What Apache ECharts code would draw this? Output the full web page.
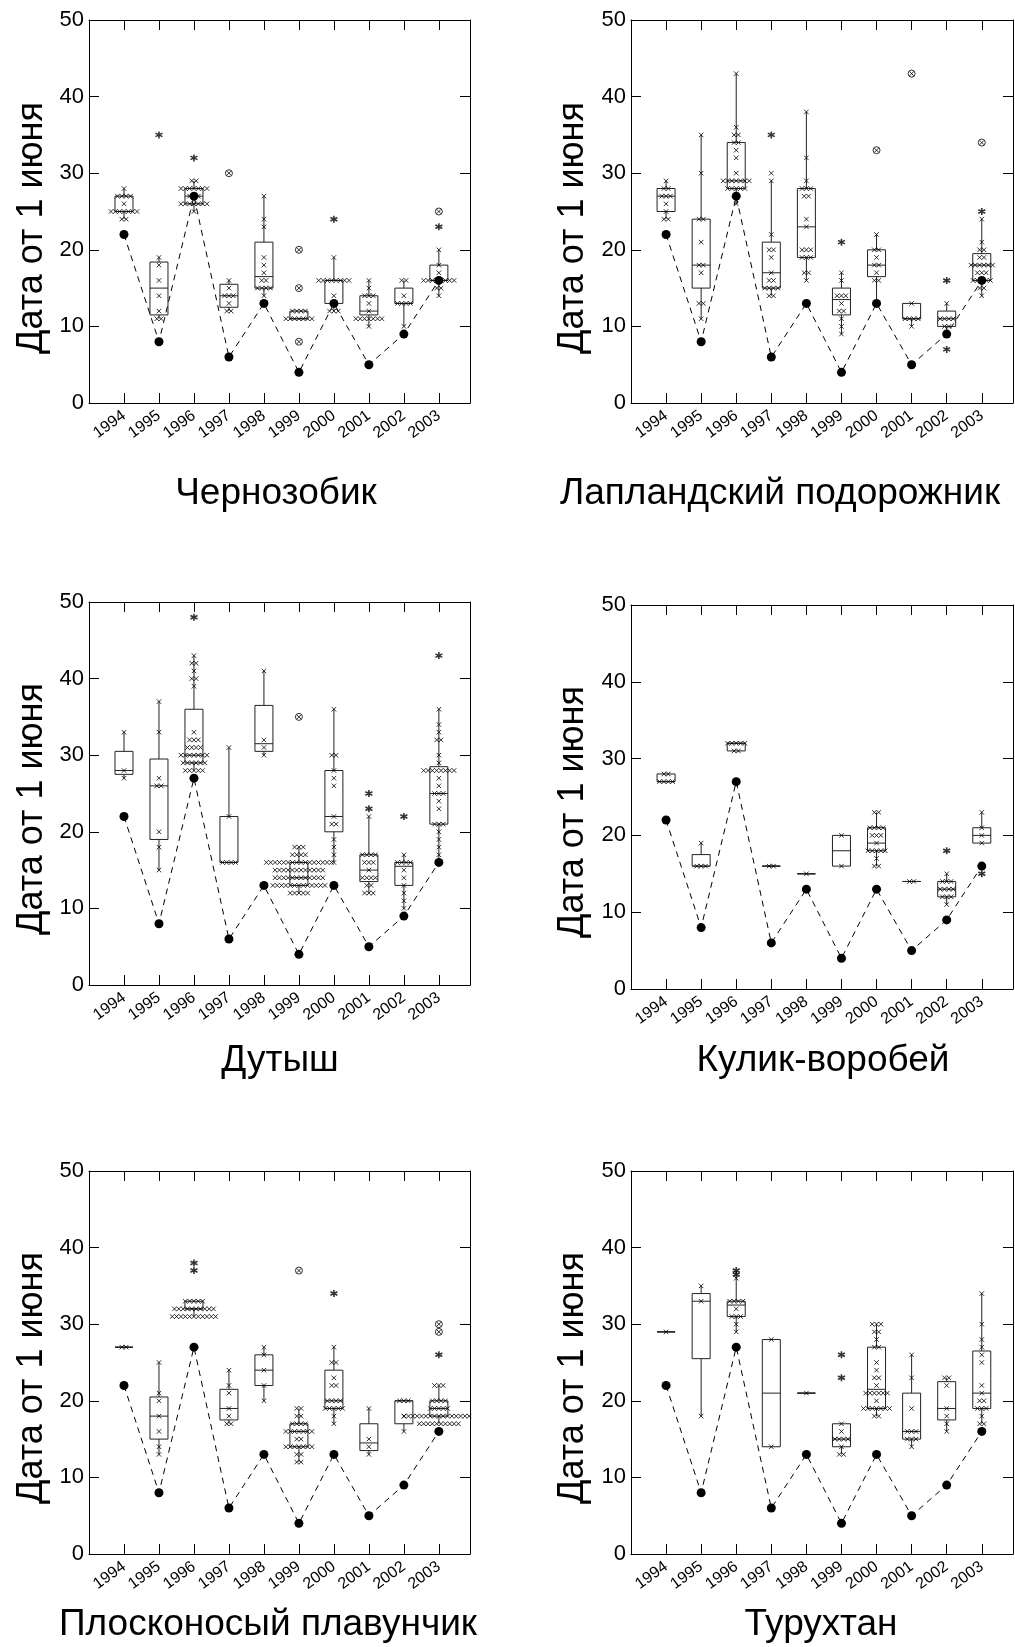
<!DOCTYPE html>
<html>
<head>
<meta charset="utf-8">
<title>Даты прилёта куликов</title>
<script src="https://cdn.jsdelivr.net/npm/echarts@6.0.0/dist/echarts.min.js"></script>
<style>
  html, body { margin: 0; padding: 0; background: #fff; }
  #chart { width: 1015px; height: 1647px; }
</style>
</head>
<body>
<div id="chart"></div>
<script>
const years = [1994, 1995, 1996, 1997, 1998, 1999, 2000, 2001, 2002, 2003];
const yearLabels = ['1994', '1995', '1996', '1997', '1998', '1999', '2000', '2001', '2002', '2003'];
// dashed line with black dots, same in every panel
const snowmelt = [22, 8, 27, 6, 13, 4, 13, 5, 9, 16];
const yTicks = [0, 10, 20, 30, 40, 50];
const speciesNames = ['Чернозобик', 'Лапландский подорожник', 'Дутыш', 'Кулик-воробей', 'Плосконосый плавунчик', 'Турухтан'];
const yName = 'Дата от 1 июня';

// ---- Чернозобик ----  box = [min, q1, median, q3, max]
const dunlinBox = [
  [24, 25, 25, 27, 28], [11, 11.5, 15, 18.4, 19], [25, 26, 27, 28, 29], [12, 12.5, 14, 15.5, 16], [14, 15, 16.5, 21, 27],
  [11, 11, 11, 12, 12], [12, 13, 16, 16, 19], [10, 11.5, 12, 14, 16], [10, 13, 13, 15, 16], [14, 16, 16, 18, 20]
];
const dunlinPoints = [
  [28, 27, 27, 27, 27, 26, 25, 25, 25, 25, 25, 25, 25, 24, 24],
  [19, 18, 16, 14, 12, 11, 11],
  [29, 29, 28, 28, 28, 28, 28, 28, 28, 27, 27, 27, 26, 26, 26, 26, 26, 26, 26, 25],
  [16, 15, 14, 14, 14, 13, 12, 12],
  [27, 24, 23, 19, 18, 17, 16, 16, 15, 15, 15, 15, 14],
  [12, 12, 12, 12, 11, 11, 11, 11, 11, 11, 11],
  [19, 16, 16, 16, 16, 16, 16, 16, 16, 14, 13, 12, 12, 12],
  [16, 15, 14, 14, 14, 13, 12, 11, 11, 11, 11, 11, 11, 11, 10],
  [16, 16, 14, 13, 13, 13, 13, 10],
  [20, 18, 17, 16, 16, 16, 16, 16, 16, 16, 16, 15, 15, 14]
];
const dunlinStars = [[], [35], [32], [], [], [], [24], [], [], [23]];
const dunlinRings = [[], [], [], [30], [], [20, 15, 8], [], [], [], [25]];

// ---- Лапландский подорожник ----
const longspurBox = [
  [24, 25, 27, 28, 29], [11, 15, 18, 24, 35], [26, 28, 29, 34, 43], [14, 15, 17, 21, 29], [16, 19, 23, 28, 38],
  [9, 11.5, 13.5, 15, 17], [13, 16.5, 18, 20, 22], [10, 11, 11, 13, 13], [9, 10, 11, 12, 13], [14, 16, 18, 19.5, 24]
];
const longspurPoints = [
  [29, 28, 28, 27, 27, 27, 26, 25, 24, 24],
  [35, 30, 24, 24, 21, 18, 18, 17, 13, 13, 11],
  [43, 36, 35, 35, 34, 34, 33, 32, 30, 29, 29, 29, 29, 29, 29, 29, 28, 28, 28, 28, 28, 26],
  [30, 29, 22, 20, 20, 19, 17, 16, 16, 15, 15, 15, 15, 14, 14],
  [38, 32, 29, 28, 28, 28, 27, 27, 24, 23, 20, 20, 20, 19, 19, 19, 17, 17, 16],
  [17, 16, 14, 14, 14, 13, 12, 12, 11, 10, 9],
  [22, 20, 20, 19, 18, 18, 17, 16, 16],
  [13, 11, 11, 11, 11, 10],
  [13, 11, 11, 11, 11, 10, 10],
  [24, 21, 20, 20, 19, 19, 18, 18, 18, 18, 18, 18, 17, 17, 17, 16, 16, 16, 16, 16, 15, 15, 14]
];
const longspurStars = [[], [], [], [35], [], [21], [], [], [16, 7], [25]];
const longspurRings = [[], [], [], [], [], [], [33], [43], [], [34]];

// ---- Дутыш ----
const pectoralBox = [
  [27, 27.5, 28, 30.5, 33], [15, 19, 26, 29.5, 37], [28, 29, 30, 36, 43], [16, 16, 16, 22, 31], [30, 30.5, 31.5, 36.5, 41],
  [12, 13, 14, 16, 18], [16, 20, 22, 28, 36], [12, 13.5, 15, 17, 22], [10, 13, 15.5, 16, 17], [16, 21, 25, 28.5, 36]
];
const pectoralPoints = [
  [33, 28, 27],
  [37, 33, 27, 26, 26, 20, 18, 15],
  [43, 42, 42, 41, 40, 40, 39, 33, 32, 32, 32, 31, 31, 31, 31, 30, 30, 30, 30, 30, 30, 30, 29, 29, 29, 29, 29, 29, 28, 28, 28, 28, 28],
  [31, 22, 16, 16, 16, 16],
  [41, 32, 31, 30],
  [18, 18, 18, 17, 17, 17, 17,
   16, 16, 16, 16, 16, 16, 16, 16, 16, 16, 16, 16, 16, 16, 16, 16,
   15, 15, 15, 15, 15, 15, 15, 15, 15, 15, 15, 15,
   14, 14, 14, 14, 14, 14, 14, 14, 14, 14, 14, 14,
   13, 13, 13, 13, 13, 13, 13, 13, 13, 13, 13, 13, 13,
   12, 12, 12, 12, 12],
  [36, 30, 30, 28, 27, 26, 22, 21, 21, 19, 18, 17, 16],
  [22, 17, 17, 17, 17, 16, 16, 16, 15, 14, 14, 14, 14, 13, 13, 12, 12, 12],
  [17, 16, 16, 16, 16, 15, 14, 13, 12, 11, 10],
  [36, 34, 33, 32, 32, 30, 29, 28, 28, 28, 28, 28, 28, 28, 28, 27, 26, 25, 25, 25, 24, 23, 21, 21, 21, 20, 19, 18, 17]
];
const pectoralStars = [[], [], [48], [], [], [], [], [25, 23], [22], [43]];
const pectoralRings = [[], [], [], [], [], [35], [], [], [], []];

// ---- Кулик-воробей ----
const stintBox = [
  [27, 27, 27, 28, 28], [16, 16, 16, 17.5, 19], [31, 31, 32, 32, 32], [16, 16, 16, 16, 16], [15, 15, 15, 15, 15],
  [16, 16, 18, 20, 20], [16, 18, 19, 21, 23], [14, 14, 14, 14, 14], [11, 12, 13, 14, 15], [19, 19, 20, 21, 23]
];
const stintPoints = [
  [28, 28, 27, 27, 27, 27],
  [19, 16, 16, 16],
  [32, 32, 32, 32, 32, 31, 31],
  [16, 16],
  [15],
  [20, 16],
  [23, 23, 21, 21, 21, 21, 20, 20, 20, 19, 18, 18, 18, 18, 18, 17, 16, 16],
  [14, 14],
  [15, 14, 14, 14, 13, 13, 13, 13, 12, 12, 12, 11],
  [23, 21, 20, 19]
];
const stintStars = [[], [], [], [], [], [], [], [], [18], [15]];
const stintRings = [[], [], [], [], [], [], [], [], [], []];

// ---- Плосконосый плавунчик ----
const phalaropeBox = [
  [27, 27, 27, 27, 27], [13, 15, 18, 20.5, 25], [31, 32, 32, 33, 33], [17, 17.5, 19, 21.5, 24], [20, 22, 24, 26, 27],
  [12, 14, 16, 17, 19], [17, 19, 20, 24, 27], [13, 13.5, 14.5, 17, 19], [16, 17, 20, 20, 20], [17, 18, 19, 20, 22]
];
const phalaropePoints = [
  [27, 27],
  [25, 21, 20, 18, 16, 14, 13],
  [33, 33, 33, 33, 33, 32, 32, 32, 32, 32, 32, 32, 32, 32, 32, 31, 31, 31, 31, 31, 31, 31, 31, 31, 31, 31],
  [24, 22, 21, 19, 18, 17, 17],
  [27, 26, 24, 22, 20],
  [19, 19, 18, 18, 17, 17, 17, 17, 16, 16, 16, 16, 16, 16, 16, 15, 15, 14, 14, 14, 14, 14, 14, 14, 13, 13, 12, 12],
  [27, 25, 25, 23, 22, 22, 20, 20, 20, 20, 19, 19, 19, 19, 19, 18, 17],
  [19, 15, 14, 13],
  [20, 20, 20, 18, 16],
  [22, 22, 22, 20, 20, 20, 20, 19, 19, 19, 19, 19,
   18, 18, 18, 18, 18, 18, 18, 18, 18, 18, 18, 18, 18, 18, 18, 18, 18,
   17, 17, 17, 17, 17, 17, 17, 17, 17, 17]
];
const phalaropeStars = [[], [], [38, 37], [], [], [], [34], [], [], [26]];
const phalaropeRings = [[], [], [], [], [], [37], [], [], [], [30, 29]];

// ---- Турухтан ----
const ruffBox = [
  [29, 29, 29, 29, 29], [18, 25.5, 33, 34, 35], [29, 31, 32.5, 33, 36], [14, 14, 21, 28, 28], [21, 21, 21, 21, 21],
  [13, 14, 15, 17, 17], [18, 19, 21.5, 27, 30], [14, 15, 16, 21, 26], [16, 17.5, 19, 22.5, 23], [17, 19, 21, 26.5, 34]
];
const ruffPoints = [
  [29],
  [35, 33, 18],
  [36, 33, 33, 33, 33, 32, 31, 31, 31, 30, 29],
  [28, 14],
  [21],
  [17, 16, 15, 15, 15, 15, 14, 13, 13],
  [30, 30, 30, 29, 29, 28, 27, 27, 25, 24, 23, 23, 22, 21, 21, 21, 21, 21, 21, 20, 19, 19, 19, 19, 19, 19, 19, 18, 18],
  [26, 23, 19, 16, 16, 16, 15, 15, 15, 14],
  [23, 23, 22, 19, 18, 17, 16],
  [34, 30, 28, 27, 26, 25, 22, 21, 20, 20, 19, 19, 19, 18, 17, 17]
];
const ruffStars = [[], [], [37, 36.5], [], [], [26, 23], [], [], [], []];
const ruffRings = [[], [], [], [], [], [], [], [], [], []];

const panels = [
  { box: dunlinBox, points: dunlinPoints, stars: dunlinStars, rings: dunlinRings },
  { box: longspurBox, points: longspurPoints, stars: longspurStars, rings: longspurRings },
  { box: pectoralBox, points: pectoralPoints, stars: pectoralStars, rings: pectoralRings },
  { box: stintBox, points: stintPoints, stars: stintStars, rings: stintRings },
  { box: phalaropeBox, points: phalaropePoints, stars: phalaropeStars, rings: phalaropeRings },
  { box: ruffBox, points: ruffPoints, stars: ruffStars, rings: ruffRings }
];

// layout (pixels)
const grids = [
  { left: 89, top: 20, width: 381, height: 383 },
  { left: 631, top: 20, width: 382, height: 383 },
  { left: 89, top: 602, width: 381, height: 383 },
  { left: 631, top: 605, width: 382, height: 384 },
  { left: 89, top: 1171, width: 381, height: 383 },
  { left: 631, top: 1171, width: 382, height: 383 }
];
const titlePos = [[276, 494], [780, 494], [280, 1061], [823, 1061], [268, 1625], [821, 1625]];
const yNamePos = [[32, 228], [573, 228], [32, 809], [573, 812], [32, 1378], [573, 1378]];

const FONT = '"Liberation Sans", Arial, Helvetica, sans-serif';
const STEP = 0.124;   // horizontal spread of equal values, in years
const BOX_W = 18;

const CROSS = 'path://M0,0L8,8M8,0L0,8';
const STAR = 'path://M4,0L4,8M0.5,2L7.5,6M0.5,6L7.5,2';
const RING = 'path://M0,4A4,4,0,1,1,8,4A4,4,0,1,1,0,4ZM1.6,1.6L6.4,6.4M6.4,1.6L1.6,6.4';

// spread equal values side by side around the year
function spread(values, year) {
  const counts = new Map();
  values.forEach(v => counts.set(v, (counts.get(v) || 0) + 1));
  const out = [];
  counts.forEach((n, v) => {
    for (let i = 0; i < n; i++) out.push([year + (i - (n - 1) / 2) * STEP, v]);
  });
  return out;
}

function renderBox(params, api) {
  const x = api.value(0);
  const lo = api.coord([x, api.value(1)]);
  const q1 = api.coord([x, api.value(2)]);
  const md = api.coord([x, api.value(3)]);
  const q3 = api.coord([x, api.value(4)]);
  const hi = api.coord([x, api.value(5)]);
  const cx = lo[0];
  const st = { stroke: '#222', lineWidth: 1, fill: 'none' };
  return {
    type: 'group',
    children: [
      { type: 'line', shape: { x1: cx, y1: hi[1], x2: cx, y2: q3[1] }, style: st },
      { type: 'line', shape: { x1: cx, y1: q1[1], x2: cx, y2: lo[1] }, style: st },
      { type: 'rect', shape: { x: cx - BOX_W / 2, y: q3[1], width: BOX_W, height: q1[1] - q3[1] }, style: st },
      { type: 'line', shape: { x1: cx - BOX_W / 2, y1: md[1], x2: cx + BOX_W / 2, y2: md[1] }, style: st }
    ]
  };
}

const xAxes = [], yAxes = [], series = [], graphics = [];
const tickStyle = { show: true, inside: true, length: 10, lineStyle: { color: '#000', width: 1 } };
const lineStyleAx = { show: true, onZero: false, lineStyle: { color: '#000', width: 1 } };

panels.forEach((p, i) => {
  const base = { gridIndex: i, type: 'value', min: 1993, max: 2003.89, interval: 1,
    axisLine: lineStyleAx, axisTick: tickStyle, splitLine: { show: false } };
  xAxes.push(Object.assign({}, base, {
    position: 'bottom',
    axisLabel: {
      rotate: 36, margin: 11, fontSize: 16, color: '#000', fontFamily: FONT,
      formatter: v => { const k = years.indexOf(v); return k >= 0 ? yearLabels[k] : ''; }
    }
  }));
  xAxes.push(Object.assign({}, base, { position: 'top', axisLabel: { show: false } }));
  const ybase = { gridIndex: i, type: 'value', min: yTicks[0], max: yTicks[yTicks.length - 1], interval: 10,
    axisLine: lineStyleAx, axisTick: tickStyle, splitLine: { show: false } };
  yAxes.push(Object.assign({}, ybase, {
    position: 'left',
    axisLabel: { margin: 5, fontSize: 22, color: '#000', fontFamily: FONT }
  }));
  yAxes.push(Object.assign({}, ybase, { position: 'right', axisLabel: { show: false } }));

  const ax = { xAxisIndex: 2 * i, yAxisIndex: 2 * i };
  const boxData = [];
  p.box.forEach((b, k) => { if (b) boxData.push([years[k]].concat(b)); });
  series.push(Object.assign({
    type: 'custom', renderItem: renderBox, data: boxData, silent: true,
    encode: { x: 0, y: [1, 2, 3, 4, 5] }, z: 2
  }, ax));

  let pts = [];
  p.points.forEach((vals, k) => { pts = pts.concat(spread(vals, years[k])); });
  series.push(Object.assign({
    type: 'scatter', data: pts, symbol: CROSS, symbolSize: 4.5, silent: true, z: 3,
    itemStyle: { color: 'transparent', borderColor: '#000', borderWidth: 1 }
  }, ax));

  const stars = [], rings = [];
  p.stars.forEach((vals, k) => vals.forEach(v => stars.push([years[k], v])));
  p.rings.forEach((vals, k) => vals.forEach(v => rings.push([years[k], v])));
  series.push(Object.assign({
    type: 'scatter', data: stars, symbol: STAR, symbolSize: 7, silent: true, z: 4,
    itemStyle: { color: 'transparent', borderColor: '#000', borderWidth: 1.6 }
  }, ax));
  series.push(Object.assign({
    type: 'scatter', data: rings, symbol: RING, symbolSize: 7, silent: true, z: 4,
    itemStyle: { color: 'transparent', borderColor: '#000', borderWidth: 1 }
  }, ax));

  series.push(Object.assign({
    type: 'line', data: years.map((y, k) => [y, snowmelt[k]]), silent: true, z: 5,
    symbol: 'circle', symbolSize: 9, showAllSymbol: true,
    itemStyle: { color: '#000' },
    lineStyle: { color: '#000', width: 1, type: [6, 5] }
  }, ax));

  graphics.push({
    type: 'text', x: titlePos[i][0], y: titlePos[i][1],
    style: { text: speciesNames[i], font: '37px ' + FONT, fill: '#000', align: 'center', verticalAlign: 'middle' }
  });
  graphics.push({
    type: 'text', x: yNamePos[i][0], y: yNamePos[i][1], rotation: Math.PI / 2,
    style: { text: yName, font: '36px ' + FONT, fill: '#000', align: 'center', verticalAlign: 'middle' }
  });
});

const chart = echarts.init(document.getElementById('chart'), null, { renderer: 'canvas' });
chart.setOption({
  animation: false,
  backgroundColor: '#fff',
  grid: grids.map(g => Object.assign({ containLabel: false, outerBoundsMode: 'none' }, g)),
  xAxis: xAxes,
  yAxis: yAxes,
  series: series,
  graphic: graphics
});
</script>
</body>
</html>
